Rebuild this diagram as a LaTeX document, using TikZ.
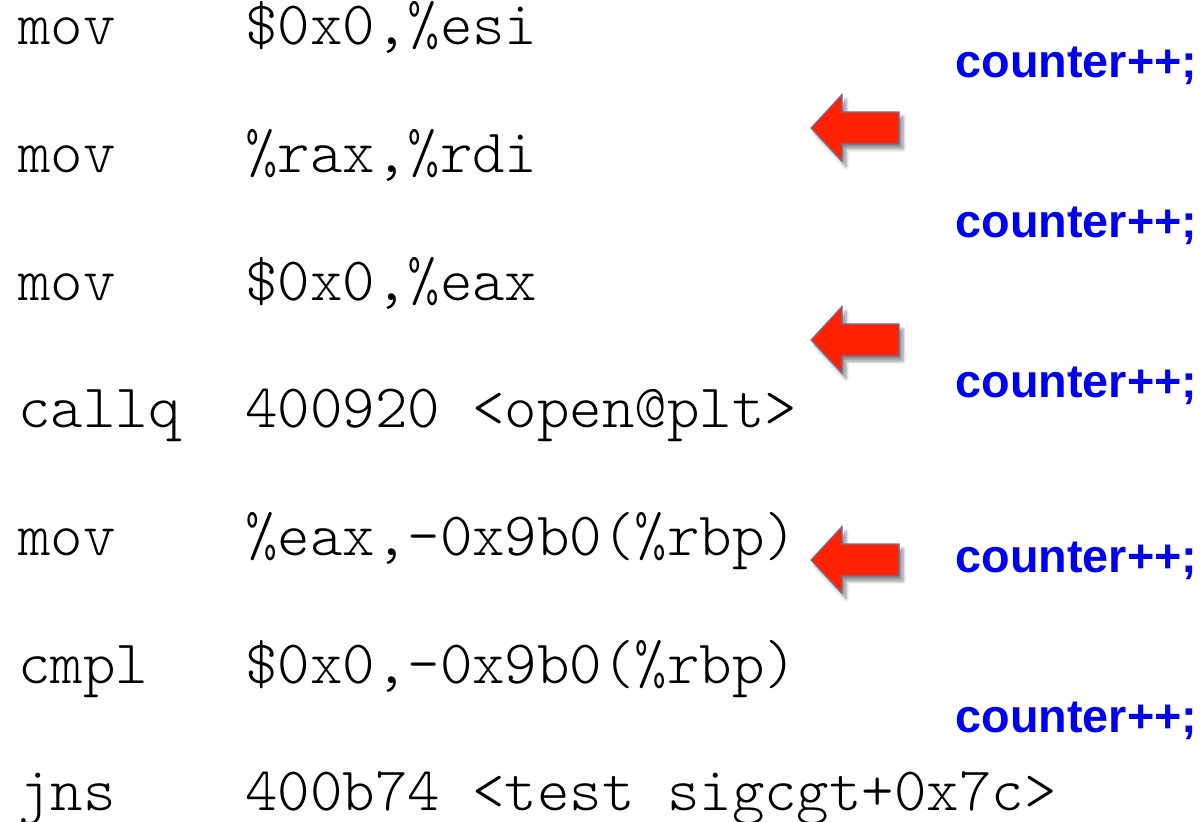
\documentclass[tikz,border=0pt]{standalone}
\usepackage{fontspec}
\setmonofont{Latin Modern Mono Light}
\newfontfamily\hvfont{Liberation Sans}
\usetikzlibrary{shadows.blur}
\definecolor{cblue}{RGB}{0,0,240}
\definecolor{ared}{RGB}{255,34,0}
\definecolor{aedge}{RGB}{110,110,160}
\begin{document}
\begin{tikzpicture}[x=0.5pt,y=-0.5pt,
  asm/.style={anchor=base west,inner sep=0,font=\fontsize{30.9}{30.9}\selectfont\ttfamily},
  cnt/.style={anchor=base west,inner sep=0,text=cblue,font=\fontsize{23.4}{23.4}\selectfont\hvfont\bfseries},
  redarrow/.style={fill=ared,draw=aedge,line width=0.6pt,line join=miter,
     blur shadow={shadow xshift=2pt,shadow yshift=-2.5pt,shadow blur steps=6,shadow opacity=45}}]
\useasboundingbox (0,0) rectangle (1202,822);
% code lines
\foreach \i/\op/\arg in {1/mov/{\$0x0,\%esi},
                        2/mov/{\%rax,\%rdi},
                        3/mov/{\$0x0,\%eax},
                        4/callq/{400920 <open@plt>},
                        5/mov/{\%eax,-0x9b0(\%rbp)},
                        6/cmpl/{\$0x0,-0x9b0(\%rbp)},
                        7/jns/{400b74 <test sigcgt+0x7c>}}{
  \pgfmathsetmacro{\yy}{45+127.6*(\i-1)}
  \node[asm] (op\i) at (18,\yy) {\op};
  \node[asm] (arg\i) at (245,\yy) {\arg};
}
% counters
\foreach \j/\yc in {1/78,2/238,3/398,4/572,5/732}{
  \node[cnt] (c\j) at (955,\yc) {counter++;};
}
% arrows
\foreach \k/\ya in {1/128,2/340,3/560}{
  \coordinate (a\k) at (811,\ya);
  \path[redarrow] (a\k) -- ++(31,-33.5) -- ++(0,17.5) -- ++(57,0) -- ++(0,32) -- ++(-57,0) -- ++(0,17.5) -- cycle;
}
\end{tikzpicture}
\end{document}
